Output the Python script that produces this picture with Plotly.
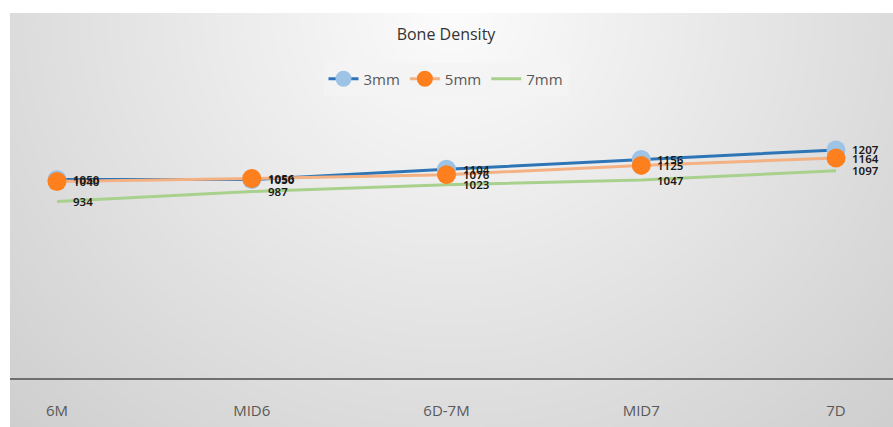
import base64
import struct
import zlib

import numpy as np
import plotly.graph_objects as go

# Measurement sites and bone density per implant length
sites = ["6M", "MID6", "6D-7M", "MID7", "7D"]
density_3mm = [1050, 1050, 1104, 1156, 1207]
density_5mm = [1040, 1056, 1076, 1125, 1164]
density_7mm = [934, 987, 1023, 1047, 1097]

W, H = 893, 427
ML, MR, MT, MB = 10, 0, 13, 49
PW, PH = W - ML - MR, H - MT - MB


def radial_background(w, h):
    """Soft grey radial wash, brightest at the top centre."""
    yy, xx = np.mgrid[0:h, 0:w].astype(float)
    dx = (xx - w / 2) / (w / 2)
    dy = yy / h
    r = np.sqrt(dx ** 2 + dy ** 2)
    v = np.clip(252 - 32 * r, 0, 255).astype(np.uint8)
    raw = b"".join(b"\x00" + row.tobytes() for row in v)

    def chunk(tag, data):
        c = struct.pack(">I", len(data)) + tag + data
        return c + struct.pack(">I", zlib.crc32(tag + data) & 0xFFFFFFFF)

    png = b"\x89PNG\r\n\x1a\n"
    png += chunk(b"IHDR", struct.pack(">IIBBBBB", w, h, 8, 0, 0, 0, 0))
    png += chunk(b"IDAT", zlib.compress(raw, 9))
    png += chunk(b"IEND", b"")
    return "data:image/png;base64," + base64.b64encode(png).decode()


bg_w, bg_h = W - ML, H - MT

fig = go.Figure()

fig.add_trace(go.Scatter(
    x=sites, y=density_7mm, name="7mm", mode="lines",
    line=dict(color="#a9d18e", width=3),
))
fig.add_trace(go.Scatter(
    x=sites, y=density_3mm, name="3mm", mode="lines+markers",
    line=dict(color="#2e75b6", width=3),
    marker=dict(color="#9dc3e6", size=19),
))
fig.add_trace(go.Scatter(
    x=sites, y=density_5mm, name="5mm", mode="lines+markers",
    line=dict(color="#f4b183", width=3),
    marker=dict(color="#fd7f1e", size=19),
))

# Value labels to the right of each point
label_font = dict(family="Noto Sans", size=11.5, color="#1a1a1a", weight=600)
for series in (density_7mm, density_5mm, density_3mm):
    for s, v in zip(sites, series):
        fig.add_annotation(
            x=s, y=v, text=str(v), showarrow=False,
            xanchor="left", yanchor="middle", xshift=14,
            font=label_font,
        )

fig.add_layout_image(
    source=radial_background(bg_w, bg_h),
    xref="paper", yref="paper",
    x=0, y=1, sizex=bg_w / PW, sizey=bg_h / PH,
    xanchor="left", yanchor="top", sizing="stretch", layer="below",
)

step = 194.75
fig.update_layout(
    width=W, height=H,
    margin=dict(l=ML, r=MR, t=MT, b=MB),
    paper_bgcolor="white",
    plot_bgcolor="rgba(0,0,0,0)",
    title=dict(
        text="Bone Density", x=(446) / W, xanchor="center",
        y=1 - 34 / H, yanchor="middle", yref="container",
        font=dict(family="Open Sans", size=16, color="#333333", weight=500),
    ),
    legend=dict(
        orientation="h", x=(446 - ML) / PW, xanchor="center",
        y=1 - (79 - MT) / PH, yanchor="middle",
        bgcolor="rgba(244,244,244,0.8)",
        font=dict(family="Open Sans", size=15, color="#595959"),
        traceorder="normal", itemwidth=30,
        entrywidthmode="pixels",
    ),
    showlegend=True,
    xaxis=dict(
        type="category",
        range=[-(57 - ML) / step, 4 + (W - 836) / step],
        showgrid=False, zeroline=False,
        showline=True, linecolor="#6f6f6f", linewidth=2,
        ticks="", ticklabelstandoff=18,
        tickfont=dict(family="Open Sans", size=15, color="#595959"),
    ),
    yaxis=dict(
        range=[0, (378 - MT) / 0.189],
        showgrid=False, zeroline=False, showticklabels=False,
        showline=False, ticks="",
    ),
)

# Legend entries in the order 3mm, 5mm, 7mm
fig.data[0].legendrank = 3
fig.data[1].legendrank = 1
fig.data[2].legendrank = 2

fig.write_html("out.html")
